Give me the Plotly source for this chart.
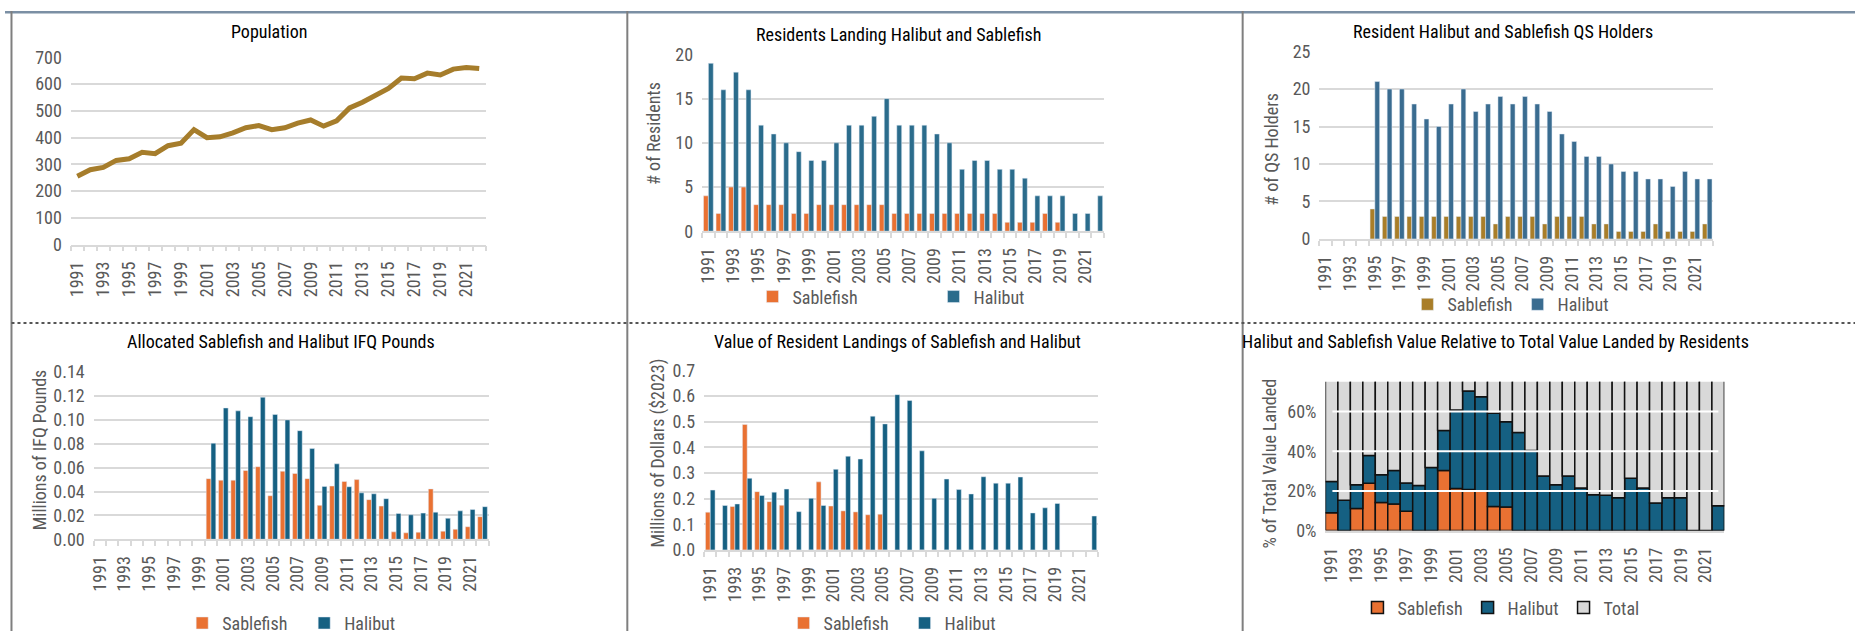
import numpy as np
import plotly.graph_objects as go

W, H = 1855, 642
FONT = "Liberation Sans Narrow, Arial Narrow, Roboto Condensed, sans-serif"
TXT = "#595959"
GRID = "#d9d9d9"
ORANGE = "#E97132"
TEAL = "#156082"

# ---------------------------------------------------------------- data
years = list(range(1991, 2023))
label_years = list(range(1991, 2023, 2))

population = [256, 280, 289, 315, 321, 345, 340, 370, 379, 430, 400, 403, 418, 437, 445, 430,
              437, 454, 466, 443, 463, 511, 532, 557, 584, 623, 620, 641, 634, 656, 662, 658]

res_sablefish = [4, 2, 5, 5, 3, 3, 3, 2, 2, 3, 3, 3, 3, 3, 3, 2,
                 2, 2, 2, 2, 2, 2, 2, 2, 1, 1, 1, 2, 1, None, None, None]
res_halibut = [19, 16, 18, 16, 12, 11, 10, 9, 8, 8, 10, 12, 12, 13, 15, 12,
               12, 12, 11, 10, 7, 8, 8, 7, 7, 6, 4, 4, 4, 2, 2, 4]

qs_sablefish = [None, None, None, None, 4, 3, 3, 3, 3, 3, 3, 3, 3, 3, 2, 3,
                3, 3, 2, 3, 3, 3, 2, 2, 1, 1, 1, 2, 1, 1, 1, 2]
qs_halibut = [None, None, None, None, 21, 20, 20, 18, 16, 15, 18, 20, 17, 18, 19, 18,
              19, 18, 17, 14, 13, 11, 11, 10, 9, 9, 8, 8, 7, 9, 8, 8]

ifq_sablefish = [None] * 9 + [0.0508, 0.0495, 0.0495, 0.0576, 0.0608, 0.0365, 0.0570, 0.0551,
                              0.0508, 0.0284, 0.0446, 0.0484, 0.0500, 0.0332, 0.0278, 0.0062,
                              0.0054, 0.0059, 0.0422, 0.0068, 0.0084, 0.0105, 0.0189]
ifq_halibut = [None] * 9 + [0.0805, 0.1100, 0.1076, 0.1027, 0.1190, 0.1046, 0.1000, 0.0910,
                            0.0760, 0.0443, 0.0632, 0.0440, 0.0389, 0.0381, 0.0340, 0.0216,
                            0.0205, 0.0219, 0.0227, 0.0176, 0.0238, 0.0249, 0.0273]

val_sablefish = [0.147, None, 0.169, 0.489, 0.227, 0.188, 0.174, None, None, 0.265, 0.171,
                 0.152, 0.148, 0.137, 0.139] + [None] * 17
val_halibut = [0.233, 0.173, 0.179, 0.279, 0.212, 0.225, 0.237, 0.149, 0.201, 0.173, 0.314,
               0.365, 0.354, 0.521, 0.491, 0.605, 0.582, 0.386, 0.201, 0.276, 0.235, 0.218,
               0.285, 0.260, 0.260, 0.284, 0.144, 0.164, 0.181, None, None, 0.132]

pct_sablefish = [0.090, 0.0, 0.111, 0.238, 0.142, 0.134, 0.098, 0.0, 0.0, 0.303, 0.212,
                 0.207, 0.200, 0.121, 0.119] + [0.0] * 17
pct_halibut = [0.158, 0.153, 0.120, 0.140, 0.140, 0.169, 0.142, 0.227, 0.318, 0.202, 0.396,
               0.497, 0.475, 0.471, 0.430, 0.495, 0.404, 0.275, 0.231, 0.275, 0.215, 0.181,
               0.178, 0.165, 0.264, 0.215, 0.139, 0.165, 0.165, 0.0, 0.0, 0.125]
pct_total = list(1.0 - np.array(pct_sablefish) - np.array(pct_halibut))

pct_grid = [0.2, 0.4, 0.6]

titles = ["Population",
          "Residents Landing Halibut and Sablefish",
          "Resident Halibut and Sablefish QS Holders",
          "Allocated Sablefish and Halibut IFQ Pounds",
          "Value of Resident Landings of Sablefish and Halibut",
          "Halibut and Sablefish Value Relative to Total Value Landed by Residents"]
ytitles = [None, "# of Residents", "# of QS Holders", "Millions of IFQ Pounds",
           "Millions of Dollars ($2023)", "% of Total Value Landed"]


# ---------------------------------------------------------------- layout helpers
def dx(l, r):
    return [l / W, r / W]


def dy(t, b):
    return [1 - b / H, 1 - t / H]


# plot boxes in pixels: (left, right, top, bottom)
boxes = [(66, 482, 48, 242), (699, 1102, 45, 228), (1318, 1713, 42, 236),
         (89, 485, 374, 547), (701, 1096, 372, 558), (1324, 1724, 384, 538)]
title_pos = [(265, 21), (896, 24), (1502, 21), (277, 342), (895, 342), (1495, 342)]
ytitle_pos = [None, (650, 127), (1270, 143), (35, 454), (655, 458), (1268, 469)]

fig = go.Figure()

# Population line
fig.add_trace(go.Scatter(x=years, y=population, mode="lines", name="Population",
                         line=dict(color="#A67D2B", width=5), showlegend=False,
                         xaxis="x", yaxis="y"))

# Residents landing
fig.add_trace(go.Bar(x=years, y=res_sablefish, name="Sablefish", marker_color=ORANGE,
                     xaxis="x2", yaxis="y2", legend="legend"))
fig.add_trace(go.Bar(x=years, y=res_halibut, name="Halibut", marker_color="#2B6C8C",
                     xaxis="x2", yaxis="y2", legend="legend"))

# QS holders
fig.add_trace(go.Bar(x=years, y=qs_sablefish, name="Sablefish", marker_color="#A97E29",
                     xaxis="x3", yaxis="y3", legend="legend2"))
fig.add_trace(go.Bar(x=years, y=qs_halibut, name="Halibut", marker_color="#3A6C90",
                     xaxis="x3", yaxis="y3", legend="legend2"))

# IFQ pounds
fig.add_trace(go.Bar(x=years, y=ifq_sablefish, name="Sablefish", marker_color=ORANGE,
                     xaxis="x4", yaxis="y4", legend="legend3"))
fig.add_trace(go.Bar(x=years, y=ifq_halibut, name="Halibut", marker_color=TEAL,
                     xaxis="x4", yaxis="y4", legend="legend3"))

# Value of landings
fig.add_trace(go.Bar(x=years, y=val_sablefish, name="Sablefish", marker_color=ORANGE,
                     xaxis="x5", yaxis="y5", legend="legend4"))
fig.add_trace(go.Bar(x=years, y=val_halibut, name="Halibut", marker_color=TEAL,
                     xaxis="x5", yaxis="y5", legend="legend4"))

# Share of total value (stacked through explicit bases)
s = np.array(pct_sablefish)
h = np.array(pct_halibut)
stack = [("Sablefish", pct_sablefish, np.zeros_like(s), ORANGE),
         ("Halibut", pct_halibut, s, TEAL),
         ("Total", pct_total, s + h, "#D9D9D9")]
for name, vals, base, col in stack:
    fig.add_trace(go.Bar(x=years, y=vals, base=list(base), name=name, width=1, offset=-0.5,
                         offsetgroup="share", marker=dict(color=col, line=dict(color="#111", width=1.5)),
                         xaxis="x6", yaxis="y6", legend="legend5"))

layout = dict(width=W, height=H, margin=dict(l=0, r=0, t=0, b=0),
              paper_bgcolor="white", plot_bgcolor="white",
              font=dict(family=FONT, color=TXT, size=18),
              barmode="group", bargap=0.22, bargroupgap=0)

yconf = [dict(range=[0, 700], tickvals=list(range(0, 701, 100))),
         dict(range=[0, 20], tickvals=list(range(0, 21, 5))),
         dict(range=[0, 25], tickvals=list(range(0, 26, 5))),
         dict(range=[0, 0.14], tickvals=list(np.round(np.arange(0, 0.141, 0.02), 2)), tickformat=".2f"),
         dict(range=[0, 0.7], tickvals=list(np.round(np.arange(0, 0.71, 0.1), 1)), tickformat=".1f"),
         dict(range=[0, 0.75], tickvals=[0, 0.2, 0.4, 0.6], tickformat=".0%", showgrid=False)]

for i, (l, r, t, b) in enumerate(boxes):
    n = "" if i == 0 else str(i + 1)
    xa = dict(domain=dx(l, r), anchor="y" + n, range=[1990.5, 2022.5],
              tickmode="array", tickvals=label_years, ticktext=[str(v) for v in label_years],
              tickangle=-90, tickfont=dict(size=18, color=TXT), showgrid=False, zeroline=False,
              showline=True, linecolor=GRID, linewidth=1.5, ticks="", ticklabelstandoff=8)
    if i < 5:
        xa["minor"] = dict(tickmode="linear", tick0=1990.5, dtick=1, ticks="outside",
                           ticklen=5, tickcolor=GRID, tickwidth=1.5, showgrid=False)
    ya = dict(domain=dy(t, b), anchor="x" + n, showgrid=True, gridcolor=GRID, gridwidth=1.5,
              zeroline=False, showline=False, ticks="", tickfont=dict(size=18, color=TXT),
              ticklabelstandoff=8)
    ya.update(yconf[i])
    layout["xaxis" + n] = xa
    layout["yaxis" + n] = ya
    # companion axis drawing the upper half of the boundary tick marks
    if i < 5:
        layout["xaxis" + str(i + 7)] = dict(overlaying="x" + n, anchor="y" + n, range=[1990.5, 2022.5],
                                            tickmode="linear", tick0=1990.5, dtick=1, ticks="inside",
                                            ticklen=5, tickcolor=GRID, tickwidth=1.5,
                                            showticklabels=False, showgrid=False, zeroline=False,
                                            showline=False)

leg_common = dict(orientation="h", font=dict(size=18, color=TXT, family=FONT),
                  bgcolor="rgba(0,0,0,0)", xanchor="center", yanchor="middle",
                  itemclick=False, itemdoubleclick=False)
layout["legend"] = dict(leg_common, x=931 / W, y=1 - 296 / H, entrywidth=136)
layout["legend2"] = dict(leg_common, x=1510 / W, y=1 - 304 / H)
layout["legend3"] = dict(leg_common, x=300 / W, y=1 - 634 / H, entrywidth=77)
layout["legend4"] = dict(leg_common, x=902 / W, y=1 - 634 / H, entrywidth=76)
layout["legend5"] = dict(leg_common, x=1500 / W, y=1 - 618 / H)

annotations = []
for (cx, cy), txt in zip(title_pos, titles):
    annotations.append(dict(x=cx / W, y=1 - cy / H, xref="paper", yref="paper", text=txt,
                            showarrow=False, xanchor="center", yanchor="middle",
                            font=dict(size=18, color="#000000", family=FONT)))
for pos, txt in zip(ytitle_pos, ytitles):
    if pos is None:
        continue
    annotations.append(dict(x=pos[0] / W, y=1 - pos[1] / H, xref="paper", yref="paper", text=txt,
                            showarrow=False, textangle=-90, xanchor="center", yanchor="middle",
                            font=dict(size=18, color=TXT, family=FONT)))
layout["annotations"] = annotations

shapes = []
# white reference lines drawn over the stacked share bars
for g in pct_grid:
    shapes.append(dict(type="line", xref="x6 domain", yref="y6", x0=0.0175, x1=0.985, y0=g, y1=g,
                       line=dict(color="white", width=2), layer="above"))
# panel frame lines
frame = "#7f7f7f"
shapes += [
    dict(type="line", xref="paper", yref="paper", x0=0, x1=1, y0=1 - 1.2 / H, y1=1 - 1.2 / H,
         line=dict(color="#7b8fa4", width=2.5)),
    dict(type="line", xref="paper", yref="paper", x0=6.5 / W, x1=6.5 / W, y0=0, y1=1,
         line=dict(color=frame, width=2)),
    dict(type="line", xref="paper", yref="paper", x0=624 / W, x1=624 / W, y0=0, y1=1,
         line=dict(color=frame, width=2)),
    dict(type="line", xref="paper", yref="paper", x0=1241 / W, x1=1241 / W, y0=0, y1=1,
         line=dict(color=frame, width=2)),
    dict(type="line", xref="paper", yref="paper", x0=6.5 / W, x1=1, y0=1 - 323 / H, y1=1 - 323 / H,
         line=dict(color="#555555", width=2, dash="dot")),
]
layout["shapes"] = shapes

fig.update_layout(**layout)
fig.write_html("out.html")
